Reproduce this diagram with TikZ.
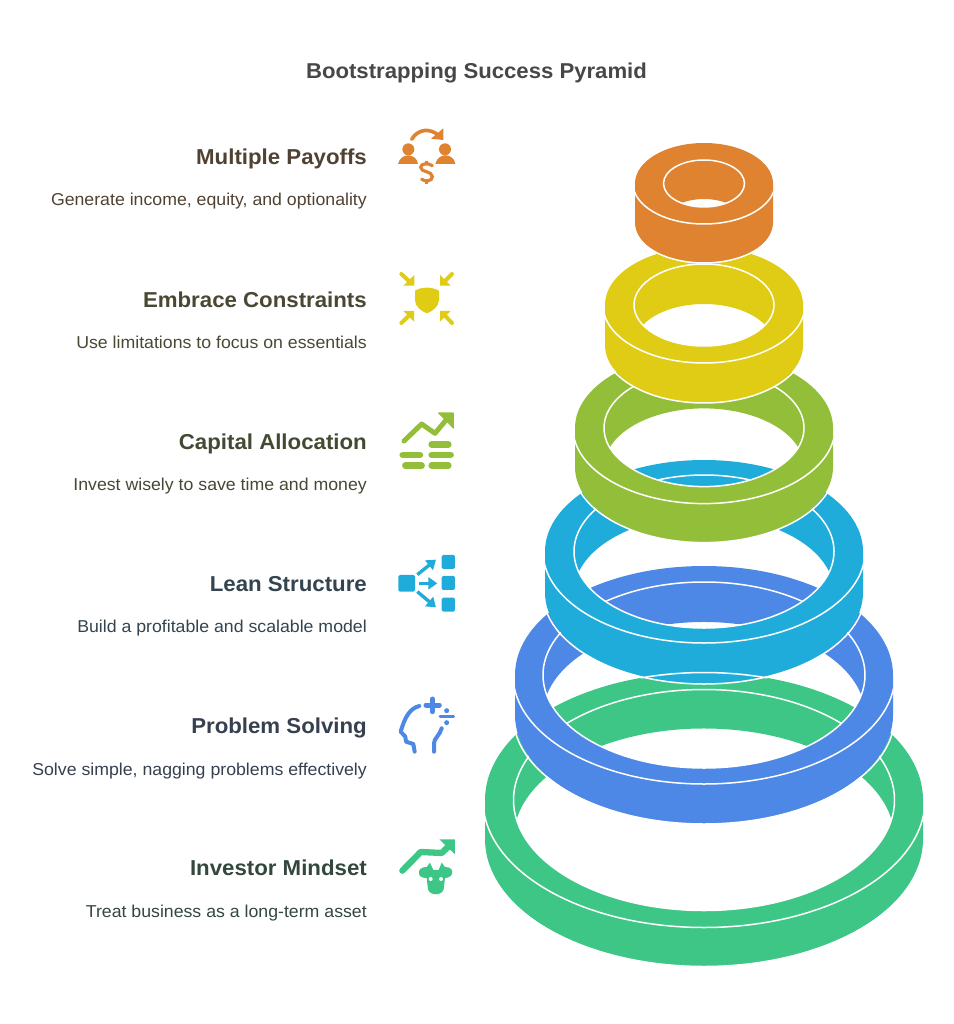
\documentclass[tikz,border=0pt]{standalone}
\usepackage{fontspec}
\setmainfont[FakeStretch=1.03]{Liberation Sans}
\usetikzlibrary{arrows.meta}
\definecolor{payoffsorange}{HTML}{E08330}
\definecolor{embraceyellow}{HTML}{E0CC15}
\definecolor{capitalolive}{HTML}{93BE39}
\definecolor{leancyan}{HTML}{1FACDB}
\definecolor{problemblue}{HTML}{4E88E7}
\definecolor{investorgreen}{HTML}{3EC686}
\definecolor{payoffstext}{HTML}{4F4233}
\definecolor{embracetext}{HTML}{4A4833}
\definecolor{capitaltext}{HTML}{434A33}
\definecolor{leantext}{HTML}{33444F}
\definecolor{problemtext}{HTML}{36404F}
\definecolor{investortext}{HTML}{33473D}
\tikzset{
	tierhead/.style={anchor=base east, inner sep=0pt, font=\bfseries\fontsize{21.6}{26}\selectfont},
	tierdesc/.style={anchor=base east, inner sep=0pt, font=\fontsize{17.2}{20}\selectfont},
	iconscale/.style={shift={(#1)}, x=0.3333pt, y=-0.3333pt},
	bar/.style={line width=6.5pt, line cap=round},
	trend/.style={line cap=round, line join=round}
}
% colour, centre y, outer radii, inner radii, height
\def\drawtier[#1](#2)(#3:#4:#5:#6:#7){
	\pgfmathsetmacro{\lensangle}{asin((#7/2)/#6)}
	\pgfmathsetmacro{\lensx}{704+#5*cos(\lensangle)}
	\fill[#1, even odd rule] (704-#3, #2) arc (180:360:#3 and #4) -- (704+#3, #2+#7) arc (0:180:#3 and #4) -- cycle
		(\lensx, #2+#7/2) arc (\lensangle:180-\lensangle:#5 and #6) arc (180+\lensangle:360-\lensangle:#5 and #6) -- cycle;
	\begin{scope}
		\clip (704-#3, #2) rectangle (704+#3, #2+#4+#7+2);
		\draw[white, line width=1.5pt] (704+#3+2, #2+#7) arc (0:180:#3+2 and #4);
		\draw[white, line width=1.5pt] (704+#3+2, #2) arc (0:180:#3+2 and #4);
	\end{scope}
	\draw[white, line width=1.5pt] (704, #2) circle (#5 and #6);
}

\begin{document}
\begin{tikzpicture}[x=1pt, y=-1pt]
	%%%%% START %%%%%
	\useasboundingbox (0, 0) rectangle (953, 1024);
	
	\node[anchor=base, inner sep=0pt, text=black!72, font=\bfseries\fontsize{21.5}{26}\selectfont] (title) at (476.5, 79) {Bootstrapping Success Pyramid};
	
	% rings, lowest first
	\drawtier[investorgreen](800)(219:127.5:190.5:110.5:39)
	\drawtier[problemblue](675)(189:109:161:93:40)
	\drawtier[leancyan](551.5)(159:91.5:130:76.5:41)
	\drawtier[capitalolive](428)(129:75.6:100:58.6:39)
	\drawtier[embraceyellow](305)(99:58:70:41:40)
	\drawtier[payoffsorange](183.5)(69:40.5:40.5:23.5:39)
	\draw[white, line width=1.5pt] (704, 800) ++(253.3:219 and 127.5) arc (253.3:286.7:219 and 127.5);
	
	% labels
	\node[tierhead, text=payoffstext] (payoffshead) at (367, 165) {Multiple Payoffs};
	\node[tierdesc, text=payoffstext] (payoffsdesc) at (367, 206) {Generate income, equity, and optionality};
	\node[tierhead, text=embracetext] (embracehead) at (367, 307) {Embrace Constraints};
	\node[tierdesc, text=embracetext] (embracedesc) at (367, 348) {Use limitations to focus on essentials};
	\node[tierhead, text=capitaltext] (capitalhead) at (367, 449) {Capital Allocation};
	\node[tierdesc, text=capitaltext] (capitaldesc) at (367, 490) {Invest wisely to save time and money};
	\node[tierhead, text=leantext] (leanhead) at (367, 591) {Lean Structure};
	\node[tierdesc, text=leantext] (leandesc) at (367, 632) {Build a profitable and scalable model};
	\node[tierhead, text=problemtext] (problemhead) at (367, 733) {Problem Solving};
	\node[tierdesc, text=problemtext] (problemdesc) at (367, 775) {Solve simple, nagging problems effectively};
	\node[tierhead, text=investortext] (investorhead) at (367, 875) {Investor Mindset};
	\node[tierdesc, text=investortext] (investordesc) at (367, 917) {Treat business as a long-term asset};
	
	% payoffs icon
	\begin{scope}[iconscale={380,110}, payoffsorange]
		\draw[line width=3.6pt, line cap=round] (95, 88) .. controls (115, 55) and (150, 55) .. (175, 75);
		\fill (190, 55) -- (190, 90) -- (153, 86) -- cycle;
		\fill (85, 118) circle (18);
		\fill (195, 118) circle (18);
		\fill (54, 162) .. controls (58, 142) and (75, 136) .. (84, 136) .. controls (95, 136) and (112, 143) .. (114, 162) -- cycle;
		\fill (166, 162) .. controls (170, 142) and (187, 136) .. (196, 136) .. controls (207, 136) and (224, 143) .. (226, 162) -- cycle;
		\draw[line width=3.2pt, line cap=round] (157, 167) .. controls (145, 158) and (122, 160) .. (122, 172) .. controls (122, 188) and (157, 182) .. (157, 200) .. controls (157, 215) and (135, 215) .. (125, 208);
		\draw[line width=3.2pt] (140, 152) -- (140, 162);
		\draw[line width=3.2pt] (140, 212) -- (140, 222);
	\end{scope}
	
	% constraints icon
	\begin{scope}[iconscale={380,110}, embraceyellow]
		\fill (105, 542) .. controls (125, 530) and (155, 530) .. (177, 542) -- (177, 570) .. controls (177, 590) and (155, 605) .. (141, 610) .. controls (125, 605) and (105, 590) .. (105, 570) -- cycle;
		\draw[line width=4pt, line cap=round] (64, 492) -- (92, 518);
		\fill (103, 527) -- (103, 495) -- (70, 527) -- cycle;
		\draw[line width=4pt, line cap=round] (216, 492) -- (190, 518);
		\fill (180, 527) -- (180, 495) -- (212, 527) -- cycle;
		\draw[line width=4pt, line cap=round] (64, 639) -- (92, 612);
		\fill (102, 603) -- (70, 603) -- (102, 635) -- cycle;
		\draw[line width=4pt, line cap=round] (216, 639) -- (190, 612);
		\fill (180, 603) -- (180, 635) -- (212, 603) -- cycle;
	\end{scope}
	
	% allocation icon
	\begin{scope}[iconscale={380,400}, capitalolive]
		\draw[trend, line width=5pt] (72, 123) -- (125, 72) -- (165, 100) -- (205, 52);
		\fill[rounded corners=1pt] (172, 37) -- (222, 37) -- (222, 88) -- cycle;
		\draw[bar] (155, 133) -- (205, 133);
		\draw[bar] (68, 165) -- (120, 165);
		\draw[bar] (155, 165) -- (212, 165);
		\draw[bar] (76, 197) -- (125, 197);
		\draw[bar] (155, 197) -- (205, 197);
	\end{scope}
	
	% structure icon
	\begin{scope}[iconscale={380,400}, leancyan]
		\fill[rounded corners=1.5pt] (55, 525) rectangle (105, 575);
		\fill[rounded corners=1.5pt] (185, 465) rectangle (225, 507);
		\fill[rounded corners=1.5pt] (185, 528) rectangle (225, 570);
		\fill[rounded corners=1.5pt] (185, 593) rectangle (225, 635);
		\draw[-{Triangle[length=9pt, width=12pt]}, line width=3.4pt] (112, 524) -- (168, 479);
		\draw[-{Triangle[length=9pt, width=12pt]}, line width=3.4pt] (116, 550) -- (172, 550);
		\draw[-{Triangle[length=9pt, width=12pt]}, line width=3.4pt] (112, 575) -- (168, 622);
	\end{scope}
	
	% solving icon
	\begin{scope}[iconscale={380,680}, problemblue]
		\draw[trend, line width=4pt] (118, 78) .. controls (90, 85) and (75, 110) .. (62, 155) -- (76, 170) -- (78, 185) -- (100, 192) -- (104, 215);
		\draw[trend, line width=4pt] (185, 145) .. controls (180, 165) and (162, 175) .. (162, 190) -- (162, 215);
		\draw[trend, line width=5pt] (157, 57) -- (157, 95);
		\draw[trend, line width=5pt] (138, 75) -- (178, 75);
		\draw[trend, line width=3pt] (180, 110) -- (221, 110);
		\fill (200, 92) circle (7.5);
		\fill (200, 128) circle (7.5);
	\end{scope}
	
	% mindset icon
	\begin{scope}[iconscale={380,680}, investorgreen]
		\draw[trend, line width=6.3pt] (67, 572) -- (122, 516) -- (185, 519) -- (208, 497);
		\fill (178, 478) -- (225, 478) -- (225, 523) -- cycle;
		\fill (150, 548) -- (160, 570) -- (176, 570) -- (185, 548) -- (195, 561) .. controls (212, 561) and (220, 570) .. (216, 582) .. controls (212, 592) and (200, 594) .. (195, 594) -- (191, 628) .. controls (185, 648) and (150, 648) .. (144, 628) -- (140, 594) .. controls (130, 594) and (120, 592) .. (117, 582) .. controls (114, 568) and (125, 561) .. (140, 561) -- cycle;
		\fill[white] (152, 597) circle (6);
		\fill[white] (183, 597) circle (6);
	\end{scope}
	
	%%%%% END %%%%%
\end{tikzpicture}
\end{document}
